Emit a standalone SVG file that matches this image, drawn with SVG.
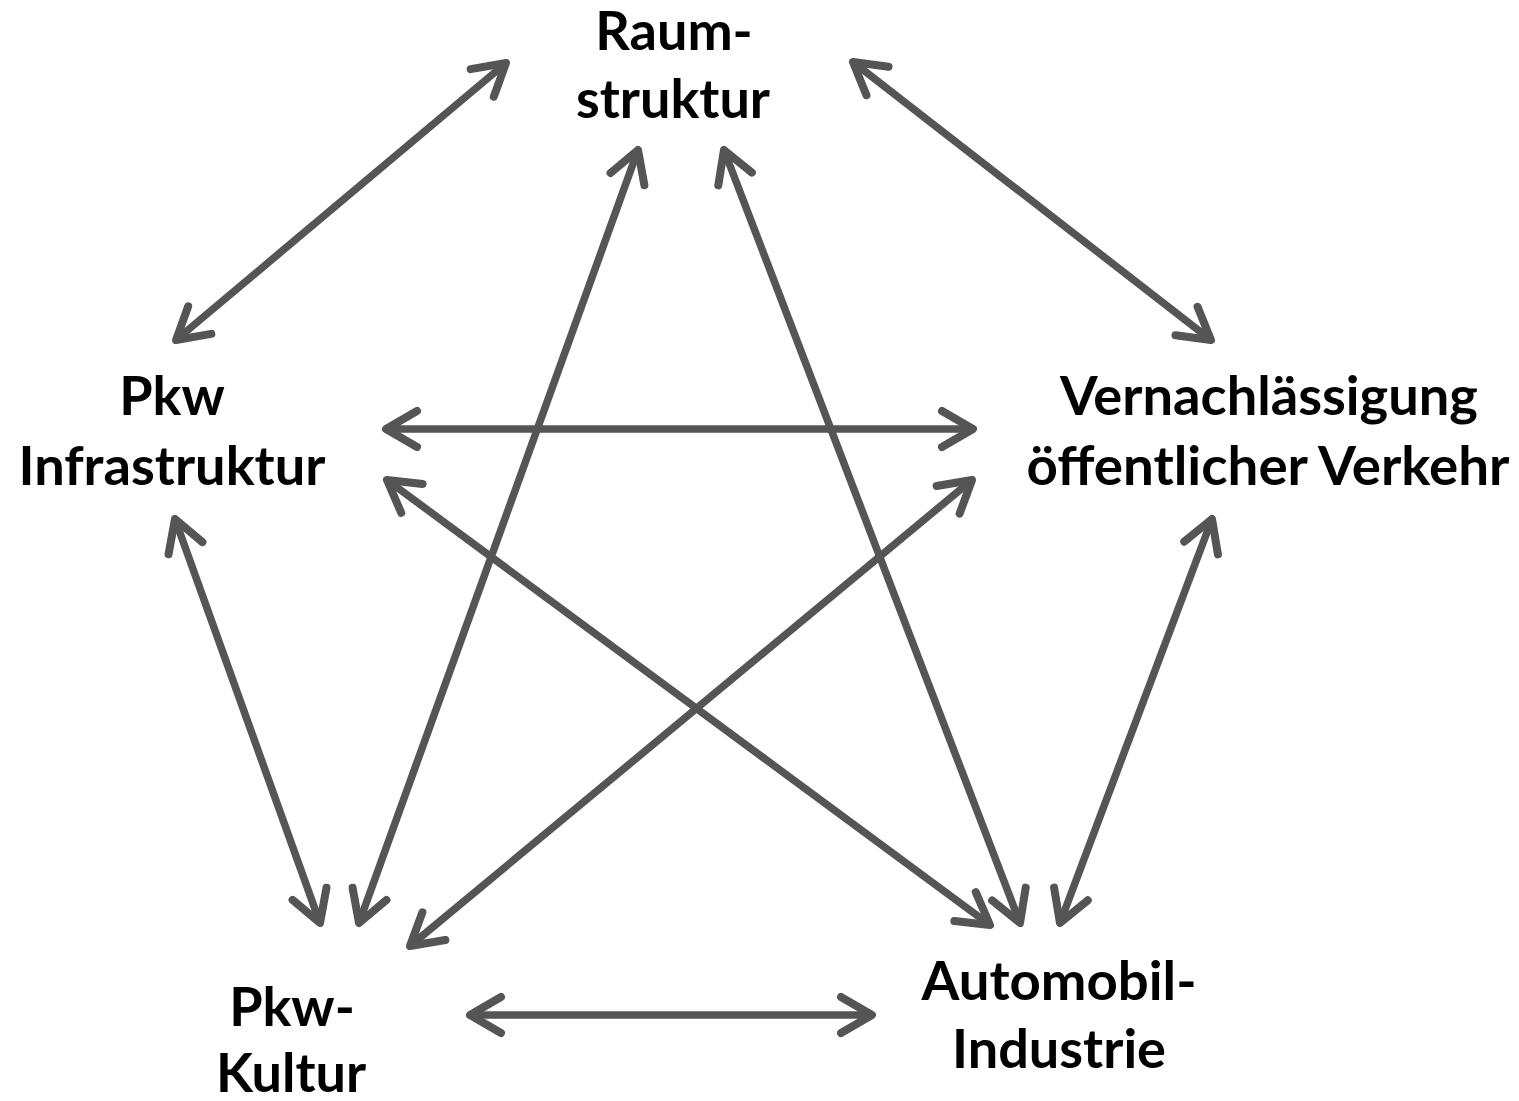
<svg xmlns="http://www.w3.org/2000/svg" width="1519" height="1101" viewBox="0 0 1519 1101">
  <style>
    .lbl { font-family: Lato, "Open Sans", "Liberation Sans", sans-serif; font-weight: 700; font-size: 54px; fill: #000; text-anchor: middle; }
    .link { stroke: #555; stroke-width: 7.5; fill: none; marker-start: url(#chev); marker-end: url(#chev); }
  </style>
  <defs>
    <!-- open chevron head shared by both ends of every two-way link -->
    <marker id="chev" markerUnits="userSpaceOnUse" viewBox="-40 -24 48 48" markerWidth="48" markerHeight="48" refX="0" refY="0" orient="auto-start-reverse" overflow="visible">
      <path d="M-31,-18 L0,0 L-31,18" fill="none" stroke="#555" stroke-width="8" stroke-linecap="round" stroke-linejoin="round"/>
    </marker>
  </defs>
  <rect width="1519" height="1101" fill="#fff"/>

  <g id="connectors">
    <line class="link" x1="176" y1="340" x2="506" y2="63"/>
    <line class="link" x1="853" y1="62" x2="1211" y2="340"/>
    <line class="link" x1="386" y1="429" x2="973" y2="429"/>
    <line class="link" x1="387" y1="480" x2="990" y2="925"/>
    <line class="link" x1="175" y1="519" x2="320" y2="923"/>
    <line class="link" x1="638" y1="150" x2="359" y2="923"/>
    <line class="link" x1="724" y1="150" x2="1020" y2="923"/>
    <line class="link" x1="972" y1="480" x2="410" y2="946"/>
    <line class="link" x1="1212" y1="519" x2="1060" y2="923"/>
    <line class="link" x1="470" y1="1015" x2="872" y2="1015"/>
  </g>

  <g id="raumstruktur">
    <text class="lbl" x="674" y="50">Raum-</text>
    <text class="lbl" x="673" y="118">struktur</text>
  </g>
  <g id="pkw-infrastruktur">
    <text class="lbl" x="172" y="415">Pkw</text>
    <text class="lbl" x="172" y="485" textLength="307" lengthAdjust="spacingAndGlyphs">Infrastruktur</text>
  </g>
  <g id="vernachlaessigung">
    <text class="lbl" x="1269" y="415" textLength="418" lengthAdjust="spacingAndGlyphs">Vernachlässigung</text>
    <text class="lbl" x="1268" y="485" textLength="483" lengthAdjust="spacingAndGlyphs">öffentlicher Verkehr</text>
  </g>
  <g id="pkw-kultur">
    <text class="lbl" x="292" y="1026">Pkw-</text>
    <text class="lbl" x="291" y="1092">Kultur</text>
  </g>
  <g id="automobil-industrie">
    <text class="lbl" x="1059" y="1000" textLength="275" lengthAdjust="spacingAndGlyphs">Automobil-</text>
    <text class="lbl" x="1059" y="1068" textLength="214" lengthAdjust="spacingAndGlyphs">Industrie</text>
  </g>
</svg>
